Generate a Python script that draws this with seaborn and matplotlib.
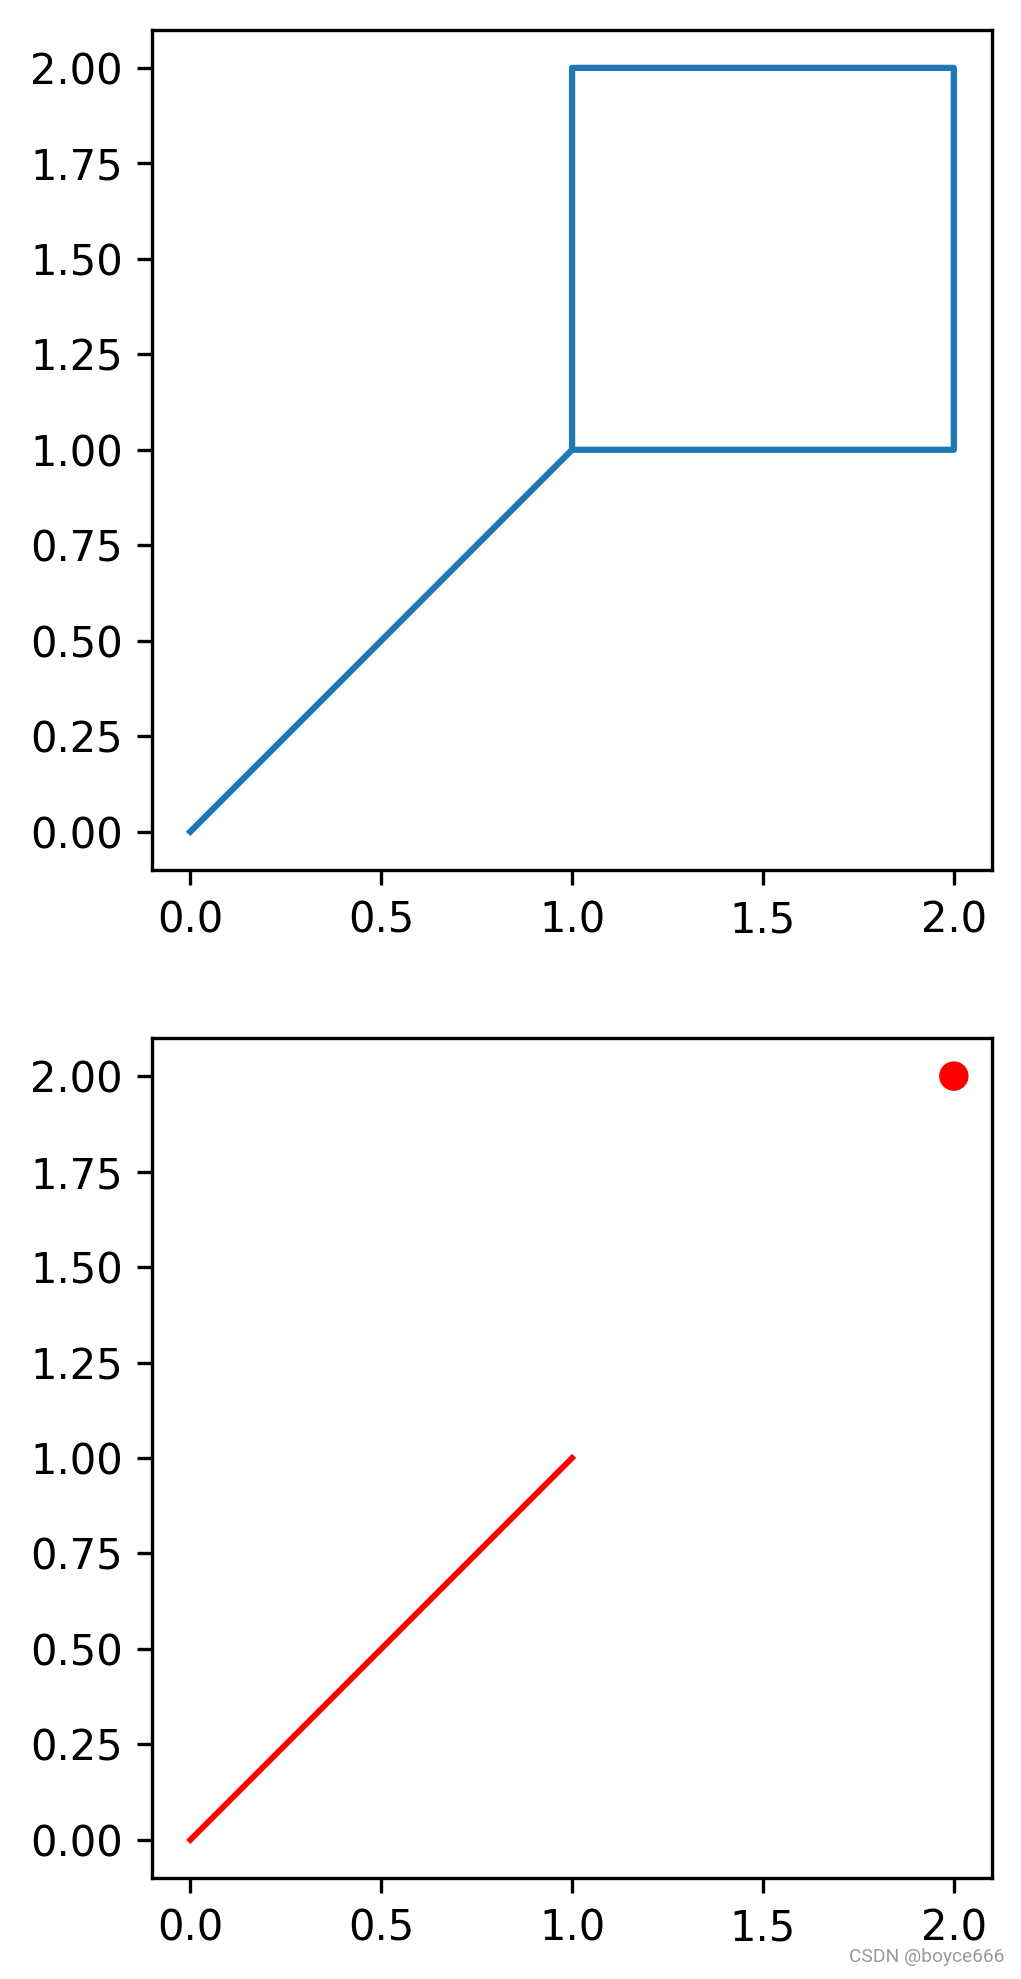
import matplotlib
matplotlib.use("Agg")
import matplotlib.pyplot as plt
import seaborn as sns
import pandas as pd

# ── Data ───────────────────────────────────────────────────────
path_x = [0, 1, 1, 2, 2, 1]
path_y = [0, 1, 2, 2, 1, 1]

seg_x = [0, 1]
seg_y = [0, 1]

dot_x = [2]
dot_y = [2]

# ── Figure ─────────────────────────────────────────────────────
fig, (ax1, ax2) = plt.subplots(2, 1, figsize=(1021 / 300, 1979 / 300), dpi=300)
fig.subplots_adjust(left=0.149, right=0.9716, top=0.985, bottom=0.051, hspace=0.2)

path_df = pd.DataFrame({"x": path_x, "y": path_y})
sns.lineplot(data=path_df, x="x", y="y", sort=False, estimator=None,
             ax=ax1, color="#1f77b4", linewidth=1.5)

sns.lineplot(x=seg_x, y=seg_y, sort=False, estimator=None,
             ax=ax2, color="red", linewidth=1.4)
sns.scatterplot(x=dot_x, y=dot_y, ax=ax2, color="red", s=50, edgecolor="none")

for ax in (ax1, ax2):
    ax.set_xlabel("")
    ax.set_ylabel("")
    ax.set_xticks([0.0, 0.5, 1.0, 1.5, 2.0])
    ax.set_yticks([0.0, 0.25, 0.5, 0.75, 1.0, 1.25, 1.5, 1.75, 2.0])
    ax.set_xlim(-0.1, 2.1)
    ax.set_ylim(-0.1, 2.1)
    ax.yaxis.set_major_formatter(matplotlib.ticker.FormatStrFormatter("%.2f"))
    ax.xaxis.set_major_formatter(matplotlib.ticker.FormatStrFormatter("%.1f"))

fig.text(0.984, 0.011, "CSDN @boyce666", ha="right", va="center",
         fontsize=4.6, color="#999999", family="Roboto")

plt.savefig("out.png", dpi=300)
